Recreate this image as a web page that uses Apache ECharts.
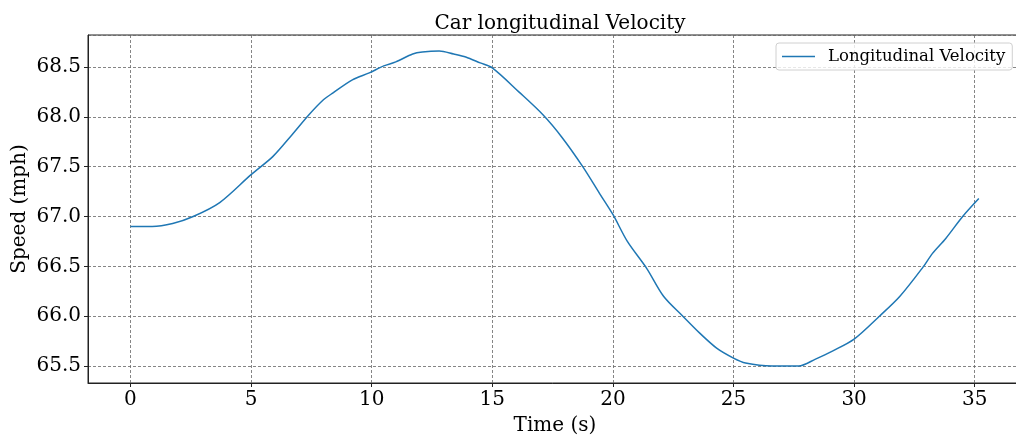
<!DOCTYPE html>
<html>
<head>
<meta charset="utf-8">
<script src="https://cdn.jsdelivr.net/npm/echarts@6/dist/echarts.min.js"></script>
<style>
html,body{margin:0;padding:0;background:#fff;}
#chart{width:1016px;height:436px;}
</style>
</head>
<body>
<div id="chart"></div>
<script>
const titleText = "Car longitudinal Velocity";
const seriesName = "Longitudinal Velocity";
const xName = "Time (s)";
const yName = "Speed (mph)";
const time = [0,0.9,1.75,2.6,3.7,5.0,5.9,6.7,7.4,8.0,8.4,9.2,9.9,10.5,11.0,11.7,12.1,12.8,13.4,13.9,14.5,15.0,16.1,17.1,17.9,18.75,19.45,20.0,20.6,21.4,22.1,22.9,23.6,24.3,25.0,25.5,26.6,27.7,28.4,29.1,30.0,31.05,31.9,32.85,33.25,33.8,34.5,35.17];
const speed = [66.90,66.90,66.93,67.00,67.14,67.42,67.60,67.82,68.02,68.17,68.24,68.37,68.44,68.51,68.55,68.63,68.65,68.66,68.63,68.60,68.54,68.49,68.25,68.02,67.79,67.50,67.23,67.02,66.75,66.48,66.20,66.00,65.83,65.68,65.58,65.53,65.50,65.50,65.57,65.65,65.77,66.00,66.20,66.49,66.63,66.78,67.00,67.18];

const font = "DejaVu Serif";
const chart = echarts.init(document.getElementById('chart'), null, {renderer:'canvas'});
const data = time.map((t,i)=>[t, speed[i]]);
chart.setOption({
  animation:false,
  backgroundColor:'#fff',
  title:{
    text:titleText, left:555, top:9, textAlign:'center',
    textStyle:{fontFamily:font, fontSize:20, fontWeight:'normal', color:'#000'}
  },
  legend:{
    data:[{name:seriesName, icon:'rect'}], left:776, top:43, orient:'vertical',
    padding:[5,7,5,6], itemWidth:33, itemHeight:1.5,
    borderColor:'#d0d0d0', borderWidth:1, borderRadius:3,
    backgroundColor:'rgba(255,255,255,0.8)',
    textStyle:{fontFamily:font, fontSize:16.5, color:'#000', padding:[0,0,0,8]}
  },
  grid:{left:88, top:35, width:934, height:348, show:true, borderColor:'#222', borderWidth:1,
    containLabel:false, outerBoundsMode:'none'},
  xAxis:{
    type:'value', min:-1.76, max:36.96, splitNumber:8,
    name:xName, nameLocation:'middle', nameGap:33, nameMoveOverlap:false,
    nameTextStyle:{fontFamily:font, fontSize:20, color:'#000'},
    axisLine:{show:true, onZero:false, lineStyle:{color:'#222', width:1}},
    axisTick:{show:true, length:4, lineStyle:{color:'#222'}},
    axisLabel:{fontFamily:font, fontSize:20, color:'#000', margin:7, showMinLabel:false, showMaxLabel:false},
    splitLine:{show:true, lineStyle:{color:'#666', width:0.8, type:[3,2]}}
  },
  yAxis:{
    type:'value', min:65.33, max:68.82, splitNumber:7,
    name:yName, nameLocation:'middle', nameGap:58, nameRotate:90, nameMoveOverlap:false,
    nameTextStyle:{fontFamily:font, fontSize:20, color:'#000'},
    axisLine:{show:true, onZero:false, lineStyle:{color:'#222', width:1}},
    axisTick:{show:true, length:4, lineStyle:{color:'#222'}},
    axisLabel:{fontFamily:font, fontSize:20, color:'#000', margin:7, showMinLabel:false, showMaxLabel:false,
      formatter:v=>v.toFixed(1)},
    splitLine:{show:true, lineStyle:{color:'#666', width:0.8, type:[3,2]}}
  },
  series:[{
    name:seriesName, type:'line', data:data, showSymbol:false, symbol:'none',
    smooth:0.3, lineStyle:{color:'#1f77b4', width:1.5}, itemStyle:{color:'#1f77b4'}
  }]
});
</script>
</body>
</html>
